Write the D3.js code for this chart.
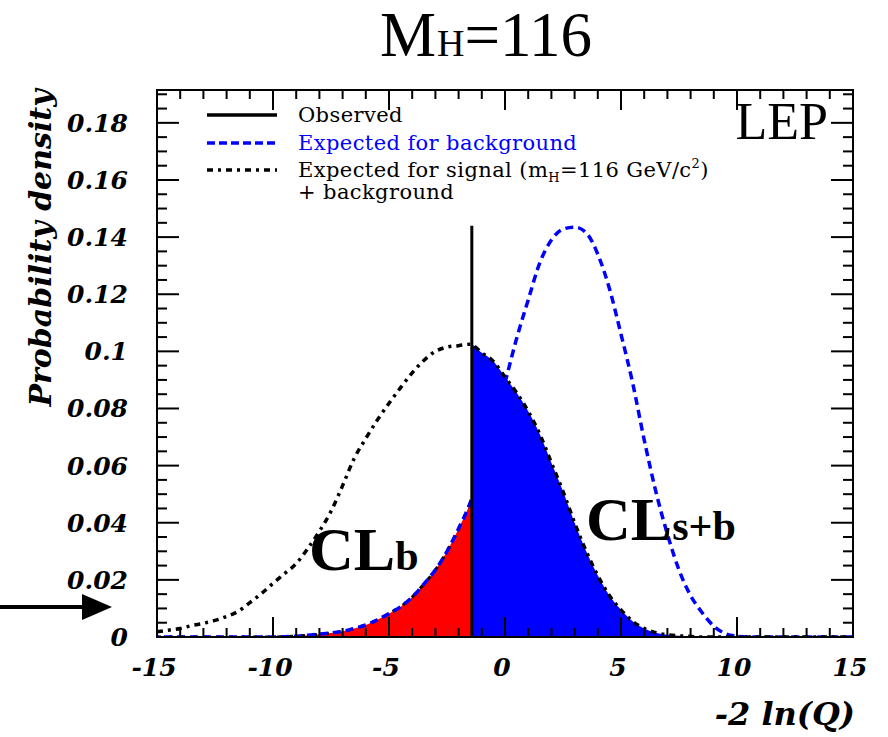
<!DOCTYPE html>
<html>
<head>
<meta charset="utf-8">
<script src="https://cdn.jsdelivr.net/npm/d3@7"></script>
<style>
  body { margin: 0; background: #fff; }
  svg { display: block; }
</style>
</head>
<body>
<svg id="chart" width="888" height="737"></svg>
<script>
// -2ln(Q) grid (every 0.5)
const xVals = d3.range(-15, 15.01, 0.5);

// expected for signal + background (dash-dot)
const sbVals = [0.0018, 0.0024, 0.003, 0.004, 0.0048, 0.0058, 0.0072, 0.009, 0.012, 0.0152,
  0.0188, 0.0222, 0.0257, 0.031, 0.037, 0.044, 0.053, 0.0625, 0.0695, 0.076,
  0.0818, 0.0873, 0.0925, 0.0968, 0.1, 0.1015, 0.102, 0.1025, 0.0995, 0.0965,
  0.091, 0.0855, 0.079, 0.071, 0.061, 0.051, 0.040, 0.030, 0.0215, 0.0145,
  0.0095, 0.0055, 0.003, 0.0015, 0.0008, 0.0004, 0.0002, 0, 0, 0,
  0, 0, 0, 0, 0, 0, 0, 0, 0, 0, 0];

// expected for background (blue dashed)
const bgVals = [0, 0, 0, 0, 0, 0, 0, 0, 0, 0,
  0, 0.0001, 0.0003, 0.0006, 0.001, 0.0014, 0.002, 0.003, 0.0042, 0.006,
  0.0082, 0.0106, 0.014, 0.0185, 0.0235, 0.030, 0.038, 0.047, 0.060, 0.074,
  0.089, 0.1045, 0.118, 0.131, 0.139, 0.1428, 0.1435, 0.1415, 0.134, 0.122,
  0.106, 0.089, 0.069, 0.051, 0.036, 0.0235, 0.0145, 0.0085, 0.0038, 0.0012,
  0.0003, 0, 0, 0, 0, 0, 0, 0, 0, 0, 0];

const observed = -1.43;
const observedTop = 0.144;

const xTicks = [-15, -10, -5, 0, 5, 10, 15];
const yTicks = [0, 0.02, 0.04, 0.06, 0.08, 0.1, 0.12, 0.14, 0.16, 0.18];
const yTickLabels = ["0", "0.02", "0.04", "0.06", "0.08", "0.1", "0.12", "0.14", "0.16", "0.18"];

const sbData = xVals.map((x, i) => ({x: x, y: sbVals[i]}));
const bgData = xVals.map((x, i) => ({x: x, y: bgVals[i]}));

const frame = {left: 157, right: 853, top: 90, bottom: 637};

const x = d3.scaleLinear().domain([-15, 15]).range([frame.left, frame.right]);
const y = d3.scaleLinear().domain([0, 0.1915]).range([frame.bottom, frame.top]);

const svg = d3.select("#chart");

// title
const title = svg.append("text")
  .attr("x", 486).attr("y", 56)
  .attr("text-anchor", "middle")
  .style("font-family", "'Liberation Serif', 'Times New Roman', serif")
  .style("font-size", "63px");
title.append("tspan").text("M");
title.append("tspan").style("font-size", "38px").attr("dx", 1).text("H");
title.append("tspan").text("=116");

// clip regions left / right of the observed value
const defs = svg.append("defs");
defs.append("clipPath").attr("id", "leftClip")
  .append("rect")
  .attr("x", frame.left).attr("y", frame.top)
  .attr("width", x(observed) - frame.left).attr("height", frame.bottom - frame.top);
defs.append("clipPath").attr("id", "rightClip")
  .append("rect")
  .attr("x", x(observed)).attr("y", frame.top)
  .attr("width", frame.right - x(observed)).attr("height", frame.bottom - frame.top);
defs.append("clipPath").attr("id", "frameClip")
  .append("rect")
  .attr("x", frame.left).attr("y", frame.top)
  .attr("width", frame.right - frame.left).attr("height", frame.bottom - frame.top);

const area = d3.area()
  .x(d => x(d.x))
  .y0(y(0))
  .y1(d => y(d.y))
  .curve(d3.curveMonotoneX);

const line = d3.line()
  .x(d => x(d.x))
  .y(d => y(d.y))
  .curve(d3.curveMonotoneX);

// CLb : background below observed
svg.append("path")
  .datum(bgData)
  .attr("clip-path", "url(#leftClip)")
  .attr("fill", "#ff0000")
  .attr("d", area);

// CLs+b : signal+background above observed
svg.append("path")
  .datum(sbData)
  .attr("clip-path", "url(#rightClip)")
  .attr("fill", "#0000ff")
  .attr("d", area);

const plot = svg.append("g").attr("clip-path", "url(#frameClip)");

// black specks along the red edge
plot.append("path")
  .datum(bgData.filter(d => d.x <= -1))
  .attr("clip-path", "url(#leftClip)")
  .attr("fill", "none")
  .attr("stroke", "#000")
  .attr("stroke-width", 3)
  .attr("stroke-dasharray", "4 8")
  .attr("d", line);

plot.append("path")
  .datum(bgData)
  .attr("fill", "none")
  .attr("stroke", "#0000ff")
  .attr("stroke-width", 3.5)
  .attr("stroke-dasharray", "8 5")
  .attr("stroke-dashoffset", 6)
  .attr("d", line);

plot.append("path")
  .datum(sbData)
  .attr("fill", "none")
  .attr("stroke", "#000")
  .attr("stroke-width", 3.5)
  .attr("stroke-dasharray", "6 5 3 5")
  .attr("d", line);

// observed
svg.append("line")
  .attr("x1", x(observed)).attr("x2", x(observed))
  .attr("y1", y(0)).attr("y2", y(observedTop))
  .attr("stroke", "#000")
  .attr("stroke-width", 3);

// frame + ticks
svg.append("rect")
  .attr("x", frame.left).attr("y", frame.top)
  .attr("width", frame.right - frame.left).attr("height", frame.bottom - frame.top)
  .attr("fill", "none")
  .attr("stroke", "#000")
  .attr("stroke-width", 2);

const ticks = svg.append("g").attr("stroke", "#000").attr("stroke-width", 2);
d3.range(-15, 15.01, 1).forEach(v => {
  const len = (v % 5 === 0) ? 20 : 9;
  ticks.append("line").attr("x1", x(v)).attr("x2", x(v))
    .attr("y1", frame.bottom).attr("y2", frame.bottom - len);
  ticks.append("line").attr("x1", x(v)).attr("x2", x(v))
    .attr("y1", frame.top).attr("y2", frame.top + len);
});
d3.range(0, 0.1901, 0.005).forEach((v, i) => {
  const len = (i % 4 === 0) ? 22 : 10;
  ticks.append("line").attr("y1", y(v)).attr("y2", y(v))
    .attr("x1", frame.left).attr("x2", frame.left + len);
  ticks.append("line").attr("y1", y(v)).attr("y2", y(v))
    .attr("x1", frame.right).attr("x2", frame.right - len);
});

const tickFont = "'DejaVu Serif', serif";

svg.append("g").selectAll("text")
  .data(xTicks)
  .join("text")
  .attr("x", d => x(d) - 3)
  .attr("y", 676)
  .attr("text-anchor", "middle")
  .style("font-family", tickFont)
  .style("font-style", "italic")
  .style("font-weight", "bold")
  .style("font-size", "25px")
  .text(d => d < 0 ? "-" + Math.abs(d) : d);

svg.append("g").selectAll("text")
  .data(yTicks)
  .join("text")
  .attr("x", 128)
  .attr("y", d => y(d) + 9)
  .attr("text-anchor", "end")
  .style("font-family", tickFont)
  .style("font-style", "italic")
  .style("font-weight", "bold")
  .style("font-size", "25px")
  .text((d, i) => yTickLabels[i]);

// axis titles
svg.append("text")
  .attr("transform", "translate(51,248) rotate(-90)")
  .attr("text-anchor", "middle")
  .style("font-family", tickFont)
  .style("font-style", "italic")
  .style("font-weight", "bold")
  .style("font-size", "30px")
  .text("Probability density");

svg.append("text")
  .attr("x", 855).attr("y", 725)
  .attr("text-anchor", "end")
  .style("font-family", tickFont)
  .style("font-style", "italic")
  .style("font-weight", "bold")
  .style("font-size", "32px")
  .text("-2 ln(Q)");

// LEP
svg.append("text")
  .attr("x", 828).attr("y", 139)
  .attr("text-anchor", "end")
  .style("font-family", "'Liberation Serif', serif")
  .style("font-size", "52px")
  .text("LEP");

// legend
const legendFont = "'DejaVu Serif', serif";
const legend = svg.append("g");
const legendRows = [
  {y: 115, stroke: "#000", dash: null},
  {y: 143, stroke: "#0000ff", dash: "8 4"},
  {y: 170, stroke: "#000", dash: "6 5 3 5"}
];
legendRows.forEach(r => {
  legend.append("line")
    .attr("x1", 207).attr("x2", 277)
    .attr("y1", r.y).attr("y2", r.y)
    .attr("stroke", r.stroke)
    .attr("stroke-width", 3.5)
    .attr("stroke-dasharray", r.dash);
});
const legText = (yy, color) => legend.append("text")
  .attr("x", 298).attr("y", yy)
  .attr("fill", color)
  .style("font-family", legendFont)
  .style("font-size", "21px")
  .style("letter-spacing", "0.4px");
legText(122, "#000").text("Observed");
legText(150, "#0000ff").text("Expected for background");
const sig = legText(177, "#000");
sig.append("tspan").text("Expected for signal (m");
sig.append("tspan").attr("dy", 5).style("font-size", "13px").text("H");
sig.append("tspan").attr("dy", -5).text("=116 GeV/c");
sig.append("tspan").attr("dy", -9).style("font-size", "13px").text("2");
sig.append("tspan").attr("dy", 9).text(")");
legText(199, "#000").text("+ background");

// CL labels
const clFont = "'Liberation Serif', 'Times New Roman', serif";
const clb = svg.append("text")
  .attr("x", 309).attr("y", 570)
  .style("font-family", clFont)
  .style("font-weight", "bold")
  .style("font-size", "62px");
clb.append("tspan").text("CL");
clb.append("tspan").style("font-size", "42px").text("b");

const clsb = svg.append("text")
  .attr("x", 586).attr("y", 540)
  .style("font-family", clFont)
  .style("font-weight", "bold")
  .style("font-size", "62px");
clsb.append("tspan").text("CL");
clsb.append("tspan").style("font-size", "42px").text("s+b");

// arrow at the left
svg.append("line")
  .attr("x1", 0).attr("x2", 86)
  .attr("y1", 607).attr("y2", 607)
  .attr("stroke", "#000")
  .attr("stroke-width", 4);
svg.append("path")
  .attr("d", "M82,594 L112,607 L82,620 Z")
  .attr("fill", "#000");
</script>
</body>
</html>
